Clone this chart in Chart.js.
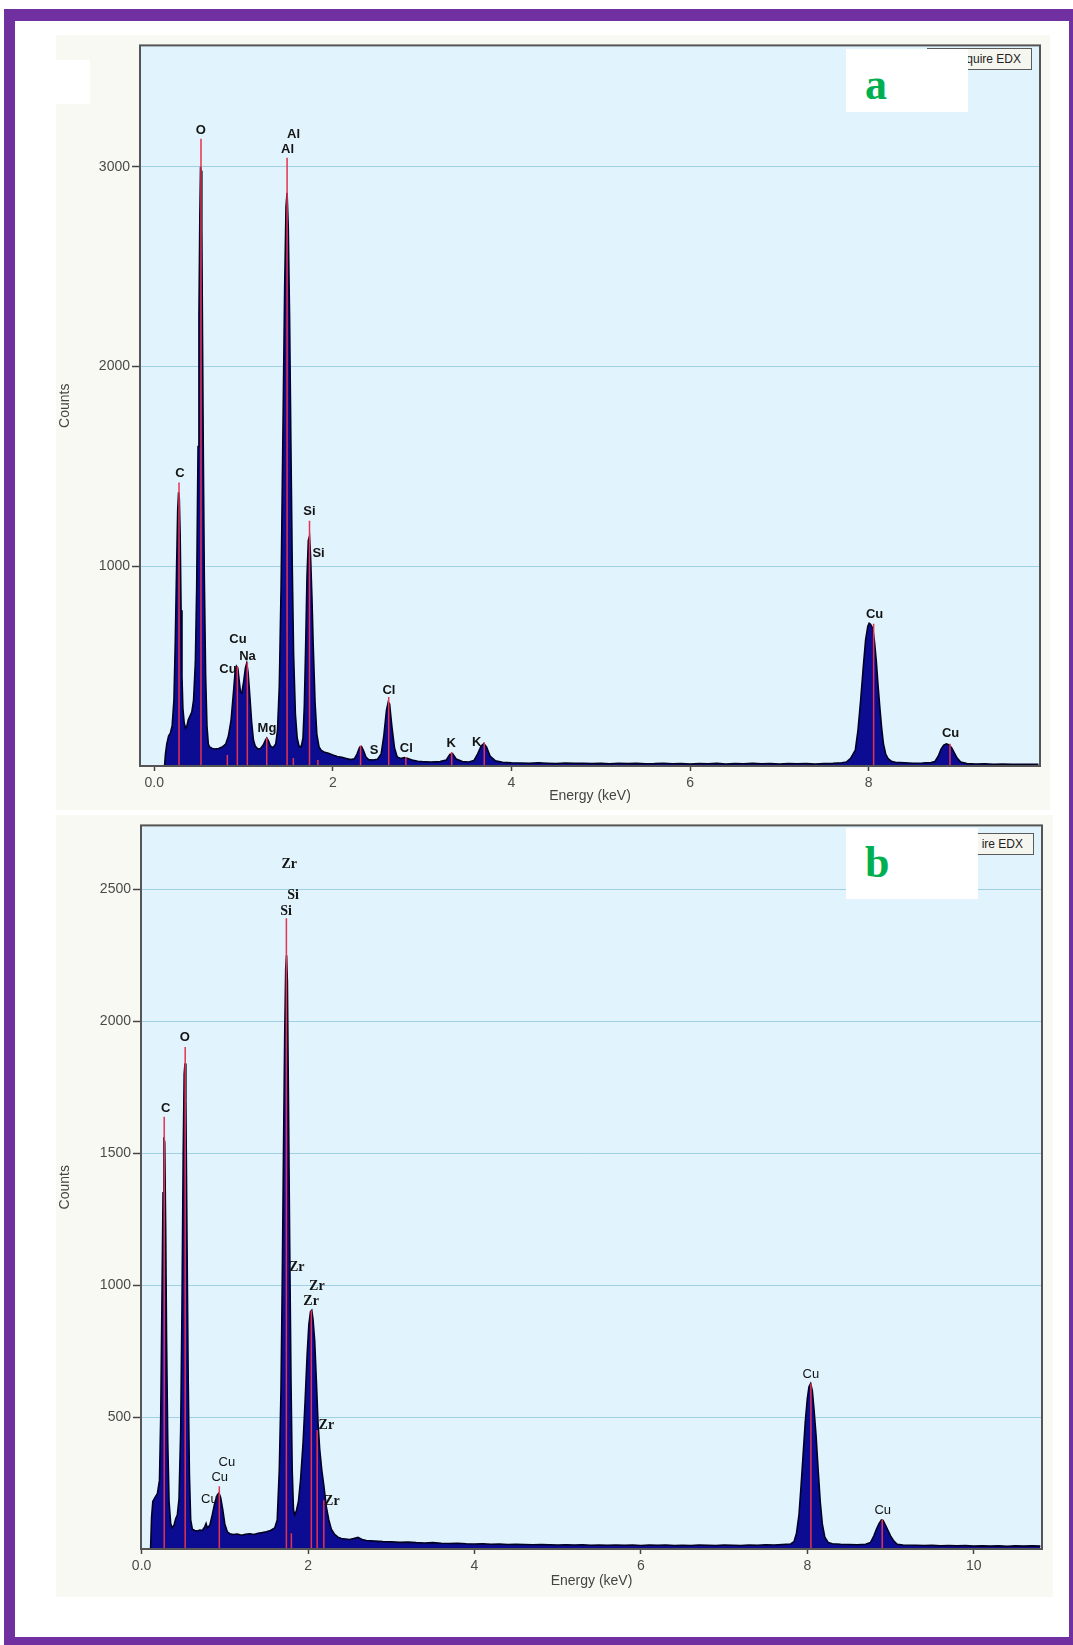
<!DOCTYPE html>
<html>
<head>
<meta charset="utf-8">
<title>EDX spectra</title>
<script src="https://cdn.jsdelivr.net/npm/chart.js@4.4.1/dist/chart.umd.min.js"></script>
<style>
  html, body { margin: 0; padding: 0; background: #ffffff; }
  body { position: relative; width: 1073px; height: 1645px; overflow: hidden; font-family: "Liberation Sans", Arial, sans-serif; }
  .abs { position: absolute; }
  #frame { left: 4px; top: 9px; width: 1069px; height: 1636px; box-sizing: border-box;
           border-style: solid; border-color: #7030a0; border-width: 12px 4px 8px 11px; }
  .panelbg { background: #f9f9f3; }
  .btn { box-sizing: border-box; border: 1px solid #5a5a5a; background: #f6f6f0; color: #222;
         font: 12px "Liberation Sans", Arial, sans-serif; text-align: right; line-height: 20px; padding-right: 10px; }
  .tag { background: #ffffff; }
  .letter { font: bold 44px "Liberation Serif", "Times New Roman", serif; color: #00b050; line-height: 44px; }
</style>
</head>
<body>
<div id="frame" class="abs"></div>

<div class="abs panelbg" style="left:56px;top:35px;width:994px;height:775px"></div>
<div class="abs panelbg" style="left:56px;top:815px;width:997px;height:782px"></div>

<div class="abs" style="left:44px;top:35px;width:1006px;height:775px"><canvas id="chartA"></canvas></div>
<div class="abs" style="left:44px;top:815px;width:1009px;height:782px"><canvas id="chartB"></canvas></div>

<!-- panel a overlays -->
<div class="abs tag" style="left:56px;top:60px;width:34px;height:44px"></div>
<div class="abs btn" style="left:927px;top:48px;width:105px;height:22px">quire EDX</div>
<div class="abs tag" style="left:846px;top:49px;width:122px;height:63px"></div>
<div class="abs letter" style="left:865px;top:63px">a</div>

<!-- panel b overlays -->
<div class="abs btn" style="left:927px;top:833px;width:107px;height:22px">ire EDX</div>
<div class="abs tag" style="left:846px;top:828px;width:132px;height:71px"></div>
<div class="abs letter" style="left:865px;top:841px">b</div>

<script>
// ---------- Spectrum (a) ----------
const energyA = [0.10,0.115,0.125,0.14,0.16,0.18,0.20,0.22,0.235,0.25,0.262,0.272,0.28,0.29,0.30,0.31,0.32,0.335,0.35,0.365,
  0.38,0.40,0.42,0.44,0.46,0.475,0.49,0.50,0.51,0.518,0.525,0.532,0.54,0.55,0.56,0.575,0.59,0.605,0.62,0.65,
  0.68,0.72,0.76,0.80,0.83,0.86,0.885,0.905,0.92,0.935,0.95,0.965,0.98,1.0,1.02,1.035,1.05,1.07,1.09,1.11,
  1.13,1.16,1.19,1.22,1.245,1.26,1.28,1.30,1.33,1.36,1.38,1.40,1.42,1.44,1.46,1.475,1.487,1.50,1.515,1.53,
  1.545,1.56,1.58,1.60,1.62,1.645,1.665,1.68,1.695,1.71,1.725,1.738,1.75,1.765,1.78,1.80,1.82,1.845,1.87,1.90,
  1.95,2.00,2.05,2.10,2.15,2.20,2.24,2.27,2.30,2.32,2.34,2.37,2.40,2.45,2.50,2.54,2.57,2.60,2.62,2.635,
  2.66,2.69,2.72,2.76,2.80,2.84,2.90,2.95,3.00,3.10,3.20,3.27,3.31,3.34,3.38,3.45,3.52,3.58,3.62,3.66,
  3.69,3.72,3.76,3.82,3.90,4.0,4.1,4.2,4.3,4.4,4.5,4.6,4.7,4.8,4.9,5.0,5.1,5.2,5.3,5.4,
  5.5,5.6,5.7,5.8,5.9,6.0,6.1,6.2,6.3,6.4,6.5,6.6,6.7,6.8,6.9,7.0,7.1,7.2,7.3,7.4,
  7.5,7.6,7.7,7.75,7.8,7.85,7.88,7.91,7.94,7.965,7.99,8.005,8.02,8.045,8.065,8.085,8.105,8.125,8.145,8.165,
  8.19,8.22,8.26,8.3,8.4,8.5,8.6,8.7,8.74,8.78,8.81,8.84,8.87,8.9,8.93,8.96,8.99,9.03,9.1,9.2,
  9.3,9.4,9.5,9.6,9.7,9.8,9.9];
const countsA = [0,0,60,110,150,165,200,330,620,1000,1280,1370,1340,1150,780,450,290,215,190,200,
  230,250,270,330,520,900,1600,2250,2750,3000,2980,2700,2150,1500,950,450,200,110,95,88,
  85,88,95,110,150,230,360,470,500,490,430,370,365,420,490,515,470,350,220,130,
  100,85,88,105,130,140,125,100,92,110,180,400,900,1650,2400,2800,2870,2700,2250,1600,
  1000,560,260,140,100,95,140,300,600,950,1130,1150,1050,850,600,320,160,95,78,70,
  64,55,48,44,38,32,36,60,95,98,80,45,32,30,34,60,150,280,320,310,
  200,90,45,38,42,38,28,24,22,20,22,30,58,62,35,22,20,28,60,100,
  112,95,50,26,18,16,15,13,16,14,12,15,13,14,12,13,11,14,12,13,
  11,12,14,11,12,10,12,11,13,10,12,11,13,11,12,10,12,11,12,10,
  12,13,16,20,40,80,180,330,500,630,700,715,710,690,620,525,400,290,190,110,
  60,35,22,18,16,14,15,17,22,50,85,105,111,105,90,65,40,20,12,10,
  11,9,10,8,9,8,9];

// element markers (a)
const markerEnergyA = [0.277,0.523,0.818,0.930,1.042,1.259,1.487,1.557,1.738,1.832,2.310,2.625,2.817,3.330,3.695,8.055,8.910];
const markerCountA  = [1420,3140,55,500,518,141,3045,40,1228,30,103,345,45,70,119,712,112];

// peak labels (a): text and the energy / count at which each is centred
const labelTextA   = ['C','O','Cu','Na','Cu','Mg','Al','Al','Si','Si','S','Cl','Cl','K','K','Cu','Cu'];
const labelEnergyA = [0.287,0.521,0.937,1.044,0.825,1.262,1.560,1.492,1.738,1.839,2.46,2.628,2.822,3.326,3.61,8.066,8.917];
const labelCountA  = [1463,3181,636,547,485,186,3163,3089,1273,1066,78,376,90,113,119,760,161];

const xTicksA = [0, 2, 4, 6, 8];
const xTickLabelsA = ['0.0', '2', '4', '6', '8'];
const yTicksA = [1000, 2000, 3000];
const yTickLabelsA = ['1000', '2000', '3000'];

// ---------- Spectrum (b) ----------
const energyB = [0.10,0.108,0.12,0.135,0.16,0.19,0.215,0.23,0.245,0.258,0.268,0.278,0.29,0.30,0.315,0.33,0.35,0.37,0.39,0.41,
  0.43,0.45,0.47,0.485,0.50,0.512,0.522,0.532,0.545,0.56,0.575,0.59,0.61,0.64,0.67,0.70,0.73,0.76,0.775,0.79,
  0.82,0.85,0.88,0.91,0.93,0.95,0.975,1.0,1.03,1.06,1.1,1.15,1.2,1.25,1.3,1.35,1.4,1.45,1.5,1.55,
  1.6,1.63,1.655,1.675,1.69,1.705,1.72,1.732,1.742,1.752,1.765,1.78,1.795,1.81,1.825,1.84,1.86,1.885,1.91,1.94,
  1.965,1.99,2.01,2.03,2.045,2.06,2.08,2.1,2.12,2.14,2.165,2.19,2.22,2.25,2.28,2.32,2.36,2.4,2.45,2.5,
  2.55,2.6,2.65,2.7,2.8,2.9,3.0,3.1,3.2,3.3,3.4,3.5,3.6,3.7,3.8,3.9,4.0,4.1,4.2,4.3,
  4.4,4.5,4.6,4.7,4.8,4.9,5.0,5.1,5.2,5.3,5.4,5.5,5.6,5.7,5.8,5.9,6.0,6.1,6.2,6.3,
  6.4,6.5,6.6,6.7,6.8,6.9,7.0,7.1,7.2,7.3,7.4,7.5,7.6,7.7,7.8,7.84,7.87,7.9,7.925,7.95,
  7.975,8.0,8.02,8.04,8.06,8.08,8.105,8.13,8.155,8.18,8.21,8.25,8.3,8.4,8.5,8.6,8.7,8.76,8.8,8.83,
  8.86,8.89,8.91,8.94,8.97,9.0,9.04,9.08,9.15,9.3,9.4,9.5,9.6,9.7,9.8,9.9,10.0,10.1,10.2,10.3,
  10.4,10.5,10.6,10.7,10.8];
const countsB = [0,0,120,180,195,210,260,500,950,1350,1560,1540,1200,800,400,180,95,80,90,115,
  130,190,450,900,1500,1800,1840,1700,1200,650,280,110,75,70,68,72,70,85,97,80,
  90,130,175,205,212,195,150,95,65,58,55,57,52,56,58,55,60,62,65,70,
  80,110,300,600,1000,1500,1950,2200,2250,2150,1700,1150,650,300,150,130,145,180,260,400,
  560,740,850,900,905,870,790,640,480,380,300,240,160,110,75,55,45,40,38,36,
  40,44,36,32,30,28,27,25,26,24,23,24,22,21,22,20,19,20,18,19,
  17,18,17,16,17,16,15,16,15,16,14,15,14,15,14,15,13,15,14,15,
  13,14,13,15,14,13,15,14,13,15,14,16,15,17,19,28,60,130,240,360,
  480,570,615,627,600,530,430,300,180,95,45,25,20,18,17,16,18,25,50,75,
  95,110,108,90,70,50,30,18,15,14,13,14,12,13,12,13,11,12,11,12,
  10,12,11,12,11];

// element markers (b)
const markerEnergyB = [0.272,0.524,0.934,1.740,1.800,2.040,2.110,2.190,8.043,8.900];
const markerCountB  = [1638,1902,238,2390,60,904,450,185,627,112];

// peak labels (b)
const labelTextB   = ['C','O','Cu','Cu','Cu','Zr','Si','Si','Zr','Zr','Zr','Zr','Zr','Cu','Cu'];
const labelEnergyB = [0.291,0.519,1.024,0.939,0.814,1.775,1.820,1.737,1.865,2.106,2.037,2.220,2.286,8.042,8.906];
const labelCountB  = [1668,1940,327,270,189,2595,2477,2417,1068,995,938,469,179,662,146];

const xTicksB = [0, 2, 4, 6, 8, 10];
const xTickLabelsB = ['0.0', '2', '4', '6', '8', '10'];
const yTicksB = [500, 1000, 1500, 2000, 2500];
const yTickLabelsB = ['500', '1000', '1500', '2000', '2500'];

// ---------- styling ----------
const SANS = '"Liberation Sans", Arial, sans-serif';
const SERIF = '"Liberation Serif", "Times New Roman", serif';
const FONT_BOLD = 'bold 13px ' + SANS;
const FONT_REG = '13px ' + SANS;
const FONT_SERIF = 'bold 14px ' + SERIF;
const labelFontA = labelTextA.map(() => FONT_BOLD);
const labelFontB = labelTextB.map(t => t === 'Si' || t === 'Zr' ? FONT_SERIF : (t === 'Cu' ? FONT_REG : FONT_BOLD));

function toPoints(xs, ys) { return xs.map((x, i) => ({ x: x, y: ys[i] })); }
function toMarkerSegments(xs, hs) {
  const pts = [];
  xs.forEach((x, i) => { pts.push({ x: x, y: 0 }, { x: x, y: hs[i] }, { x: x, y: null }); });
  return pts;
}

const plotDecor = {
  id: 'plotDecor',
  beforeDraw(chart) {
    const { ctx, chartArea: a } = chart;
    ctx.save();
    ctx.fillStyle = '#e1f3fc';
    ctx.fillRect(a.left, a.top, a.right - a.left, a.bottom - a.top);
    ctx.restore();
  },
  afterDatasetsDraw(chart, args, opts) {
    const { ctx, chartArea: a, scales } = chart;
    ctx.save();
    ctx.strokeStyle = '#555555';
    ctx.lineWidth = 2;
    ctx.strokeRect(a.left, a.top, a.right - a.left, a.bottom - a.top);
    ctx.fillStyle = '#141414';
    ctx.textAlign = 'center';
    ctx.textBaseline = 'middle';
    opts.text.forEach((t, i) => {
      ctx.font = opts.fonts[i];
      ctx.fillText(t, scales.x.getPixelForValue(opts.energy[i]), scales.y.getPixelForValue(opts.count[i]));
    });
    ctx.restore();
  }
};

function makeChart(id, cfg) {
  return new Chart(document.getElementById(id), {
    type: 'line',
    data: {
      datasets: [
        { label: 'lines', data: toMarkerSegments(cfg.markerE, cfg.markerC), borderColor: '#e5334f',
          borderWidth: 1.5, pointRadius: 0, fill: false, spanGaps: false, order: 1 },
        { label: 'spectrum', data: toPoints(cfg.energy, cfg.counts), borderColor: '#000024',
          borderWidth: 1.6, backgroundColor: '#0c0c92', fill: 'origin', pointRadius: 0, tension: 0, order: 2 }
      ]
    },
    options: {
      responsive: true,
      maintainAspectRatio: false,
      animation: false,
      devicePixelRatio: 1,
      layout: { padding: cfg.padding },
      plugins: {
        legend: { display: false },
        tooltip: { enabled: false },
        plotDecor: { text: cfg.labelText, energy: cfg.labelE, count: cfg.labelC, fonts: cfg.labelFonts }
      },
      scales: {
        x: {
          type: 'linear', min: cfg.xMin, max: cfg.xMax,
          afterBuildTicks: s => { s.ticks = cfg.xTicks.map(v => ({ value: v })); },
          afterFit: s => { s.height = cfg.xHeight; },
          ticks: { callback: (v, i) => cfg.xTickLabels[i], color: '#4a4a4a', padding: 4,
                   maxRotation: 0, autoSkip: false, font: { family: SANS, size: 14 } },
          grid: { drawOnChartArea: false, tickLength: 5, tickColor: '#444', tickWidth: 1.5 },
          border: { display: false },
          title: { display: true, text: 'Energy (keV)', color: '#444', font: { family: SANS, size: 14 },
                   padding: { top: 0, bottom: cfg.xTitlePad } }
        },
        y: {
          type: 'linear', min: 0, max: cfg.yMax,
          afterBuildTicks: s => { s.ticks = cfg.yTicks.map(v => ({ value: v })); },
          afterFit: s => { s.width = cfg.yWidth; },
          ticks: { callback: (v, i) => cfg.yTickLabels[i], color: '#4a4a4a', padding: 2,
                   font: { family: SANS, size: 14 } },
          grid: { color: '#9fd0e4', lineWidth: 1, tickLength: 8, tickColor: '#444', tickWidth: 1.5 },
          border: { display: false },
          title: { display: true, text: 'Counts', color: '#444', font: { family: SANS, size: 14 },
                   padding: { top: 13, bottom: 0 } }
        }
      }
    },
    plugins: [plotDecor]
  });
}

makeChart('chartA', {
  energy: energyA, counts: countsA, markerE: markerEnergyA, markerC: markerCountA,
  labelText: labelTextA, labelE: labelEnergyA, labelC: labelCountA, labelFonts: labelFontA,
  xTicks: xTicksA, xTickLabels: xTickLabelsA, yTicks: yTicksA, yTickLabels: yTickLabelsA,
  xMin: -0.16, xMax: 9.918, yMax: 3608,
  padding: { left: 0, right: 10, top: 4, bottom: 0 }, xHeight: 44, yWidth: 96, xTitlePad: 5
});

makeChart('chartB', {
  energy: energyB, counts: countsB, markerE: markerEnergyB, markerC: markerCountB,
  labelText: labelTextB, labelE: labelEnergyB, labelC: labelCountB, labelFonts: labelFontB,
  xTicks: xTicksB, xTickLabels: xTickLabelsB, yTicks: yTicksB, yTickLabels: yTickLabelsB,
  xMin: -0.007, xMax: 10.82, yMax: 2742,
  padding: { left: 0, right: 11, top: 9, bottom: 0 }, xHeight: 48, yWidth: 97, xTitlePad: 7
});
</script>
</body>
</html>
